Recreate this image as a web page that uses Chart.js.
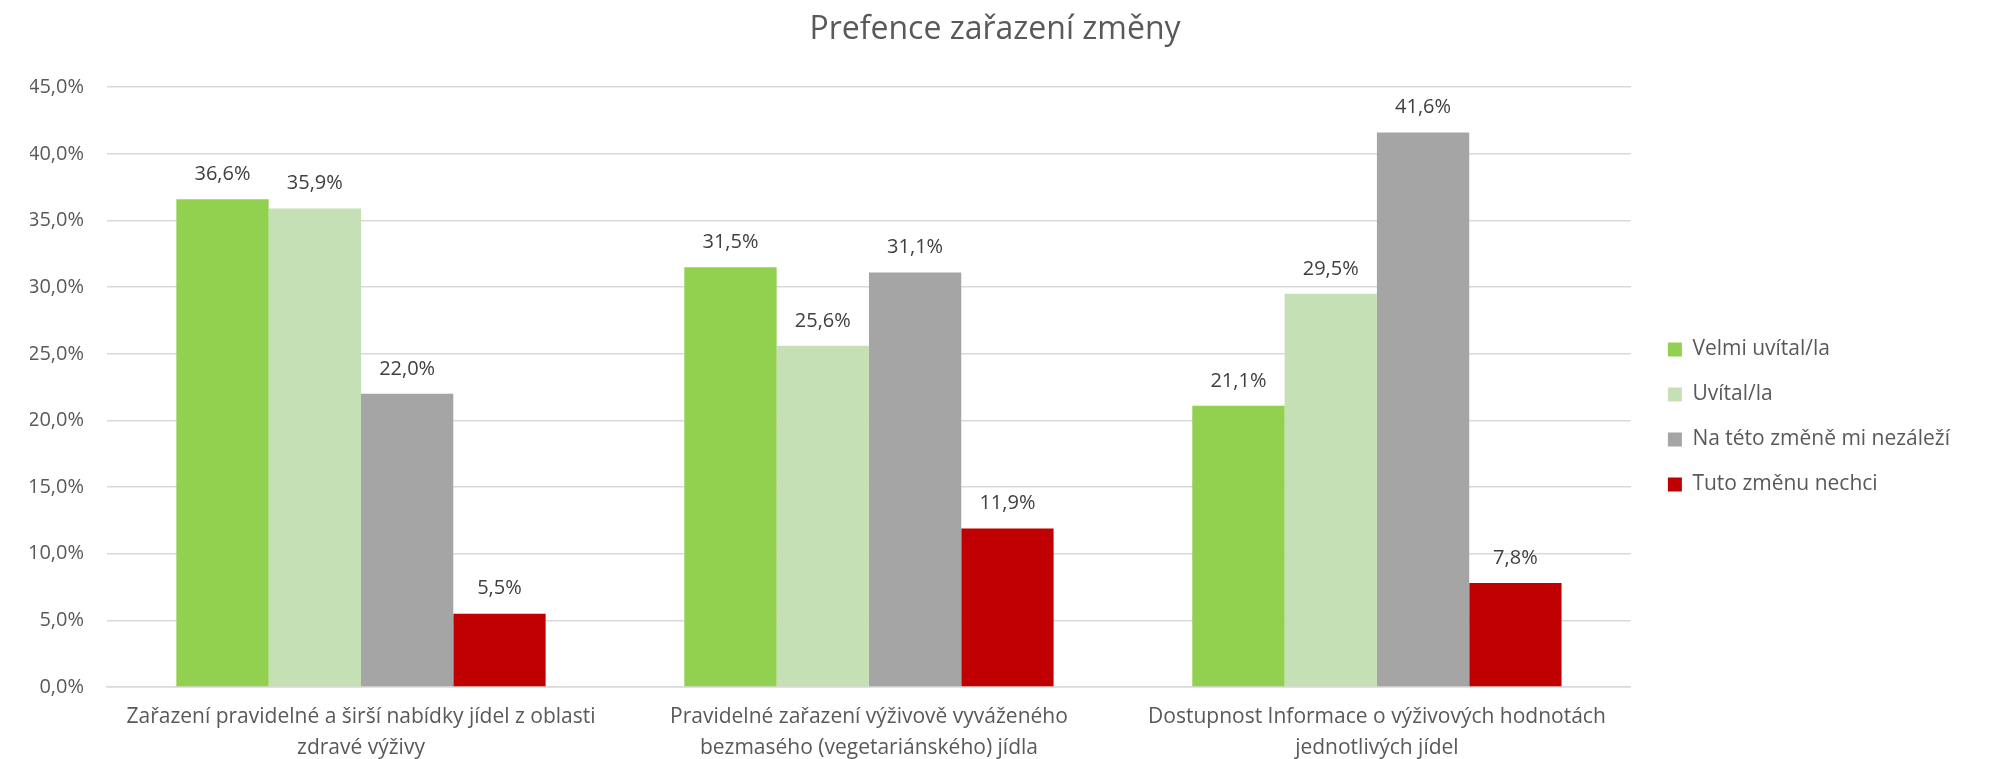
<!DOCTYPE html>
<html lang="cs">
<head>
    <meta charset="UTF-8">
    <title>Prefence zařazení změny</title>
    <style>
        body { margin: 0; overflow: hidden; background-color: #ffffff; }
        #chart-container { width: 1990px; height: 759px; position: relative; }
    </style>
</head>
<body>

<div id="chart-container">
    <canvas id="prefChart"></canvas>
</div>

<script src="https://cdn.jsdelivr.net/npm/chart.js"></script>
<script>
    // Data z grafu
    const categories = [
        ['Zařazení pravidelné a širší nabídky jídel z oblasti', 'zdravé výživy'],
        ['Pravidelné zařazení výživově vyváženého', 'bezmasého (vegetariánského) jídla'],
        ['Dostupnost Informace o výživových hodnotách', 'jednotlivých jídel']
    ];

    const seriesNames = ['Velmi uvítal/la', 'Uvítal/la', 'Na této změně mi nezáleží', 'Tuto změnu nechci'];
    const velmiUvital = [36.6, 31.5, 21.1];
    const uvital = [35.9, 25.6, 29.5];
    const nezalezi = [22.0, 31.1, 41.6];
    const nechci = [5.5, 11.9, 7.8];
    const seriesColors = ['#92d050', '#c5e0b4', '#a5a5a5', '#c00000'];

    const yTicks = { min: 0, max: 45, step: 5 };

    const fmt = v => v.toFixed(1).replace('.', ',') + '%';

    Chart.defaults.font.family = "'Open Sans', sans-serif";
    Chart.defaults.color = '#595959';

    // Popisky hodnot nad sloupci
    const valueLabels = {
        id: 'valueLabels',
        afterDatasetsDraw(chart) {
            const ctx = chart.ctx;
            ctx.save();
            ctx.font = "20px 'Open Sans', sans-serif";
            ctx.fillStyle = '#404040';
            ctx.textAlign = 'center';
            ctx.textBaseline = 'middle';
            chart.data.datasets.forEach((ds, i) => {
                chart.getDatasetMeta(i).data.forEach((bar, j) => {
                    ctx.fillText(fmt(ds.data[j]), bar.x, bar.y - 25);
                });
            });
            ctx.restore();
        }
    };

    const allSeries = [velmiUvital, uvital, nezalezi, nechci];

    new Chart(document.getElementById('prefChart'), {
        type: 'bar',
        data: {
            labels: categories,
            datasets: allSeries.map((values, i) => ({
                label: seriesNames[i],
                data: values,
                backgroundColor: seriesColors[i],
                borderWidth: 0,
                barPercentage: 1.0,
                categoryPercentage: 0.727
            }))
        },
        options: {
            responsive: true,
            maintainAspectRatio: false,
            animation: false,
            layout: { padding: { left: 30, right: 30, top: 0, bottom: -19 } },
            scales: {
                x: {
                    grid: { display: false, drawTicks: false },
                    border: { color: '#d9d9d9', width: 1.5 },
                    ticks: {
                        padding: 15,
                        maxRotation: 0,
                        autoSkip: false,
                        font: { size: 21, lineHeight: 1.45 }
                    }
                },
                y: {
                    min: yTicks.min,
                    max: yTicks.max,
                    grid: { color: '#d9d9d9', lineWidth: 1.5, drawTicks: false },
                    border: { display: false },
                    ticks: {
                        stepSize: yTicks.step,
                        padding: 23,
                        font: { size: 20 },
                        callback: v => fmt(v)
                    },
                    afterFit: s => { s.width = 77; }
                },
                // mezera mezi grafem a legendou
                spacer: {
                    position: 'right',
                    display: true,
                    grid: { display: false },
                    border: { display: false },
                    ticks: { display: false },
                    afterFit: s => { s.width = 13; }
                }
            },
            plugins: {
                title: {
                    display: true,
                    text: 'Prefence zařazení změny',
                    color: '#595959',
                    font: { size: 32, weight: 'normal', lineHeight: 1.2 },
                    padding: { top: 11, bottom: 37.8 }
                },
                legend: {
                    position: 'right',
                    title: { display: true, text: ' ', font: { size: 10, lineHeight: 1.2 }, padding: 22 },
                    labels: {
                        boxWidth: 14,
                        boxHeight: 14,
                        padding: 24,
                        color: '#595959',
                        font: { size: 21 }
                    }
                },
                tooltip: { enabled: false }
            }
        },
        plugins: [valueLabels]
    });
</script>

</body>
</html>
